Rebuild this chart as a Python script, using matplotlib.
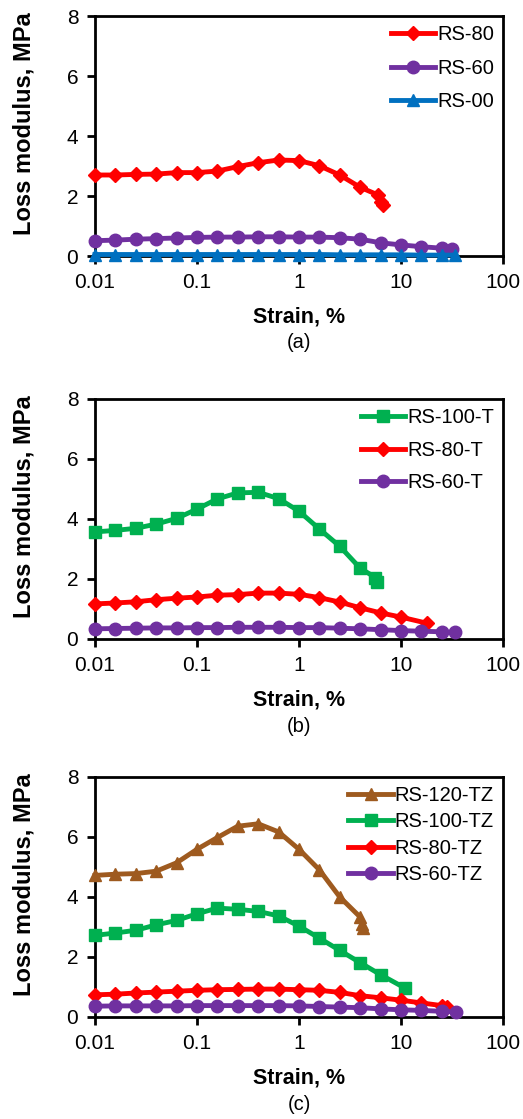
import numpy as np
import matplotlib; matplotlib.use("Agg")
import matplotlib.pyplot as plt
from matplotlib.ticker import FixedLocator, FixedFormatter, NullLocator

plt.rcParams['font.family'] = ['Liberation Sans', 'DejaVu Sans']

# strain grid, 5 points per decade starting at 0.01 %
grid = [0.01, 0.0158, 0.0251, 0.0398, 0.0631, 0.1, 0.158, 0.251, 0.398, 0.631,
        1.0, 1.58, 2.51, 3.98, 6.31, 10.0, 15.8, 25.1]

# (a)
a_rs80_x = grid[:14] + [6.0, 6.4, 6.6]
a_rs80_y = [2.70, 2.70, 2.72, 2.73, 2.78, 2.78, 2.83, 2.98, 3.11, 3.20, 3.18, 3.01, 2.70, 2.29, 2.03, 1.81, 1.70]
a_rs60_x = grid[:18] + [31.6]
a_rs60_y = [0.51, 0.53, 0.56, 0.58, 0.60, 0.62, 0.63, 0.63, 0.64, 0.64, 0.63, 0.63, 0.61, 0.56, 0.44, 0.37, 0.31, 0.26, 0.23]
a_rs00_x = grid[:18] + [34.0]
a_rs00_y = [0.05, 0.05, 0.05, 0.05, 0.05, 0.05, 0.05, 0.05, 0.05, 0.05, 0.05, 0.05, 0.04, 0.04, 0.04, 0.04, 0.03, 0.03, 0.03]

# (b)
b_rs100_x = grid[:14] + [5.6, 5.8]
b_rs100_y = [3.57, 3.62, 3.69, 3.83, 4.02, 4.33, 4.67, 4.87, 4.89, 4.68, 4.26, 3.67, 3.09, 2.36, 2.05, 1.90]
b_rs80_x = grid[:16] + [17.8]
b_rs80_y = [1.17, 1.20, 1.24, 1.31, 1.36, 1.40, 1.46, 1.48, 1.53, 1.53, 1.49, 1.38, 1.23, 1.04, 0.87, 0.73, 0.53]
b_rs60_x = grid[:18] + [34.0]
b_rs60_y = [0.34, 0.35, 0.36, 0.37, 0.37, 0.38, 0.38, 0.39, 0.39, 0.39, 0.38, 0.38, 0.36, 0.34, 0.31, 0.28, 0.26, 0.24, 0.22]

# (c)
c_rs120_x = grid[:14] + [4.1, 4.25]
c_rs120_y = [4.72, 4.76, 4.78, 4.86, 5.14, 5.59, 5.98, 6.36, 6.44, 6.17, 5.59, 4.91, 4.00, 3.33, 3.10, 2.96]
c_rs100_x = grid[:15] + [11.0]
c_rs100_y = [2.72, 2.80, 2.89, 3.07, 3.22, 3.44, 3.63, 3.59, 3.52, 3.37, 3.03, 2.63, 2.22, 1.81, 1.41, 0.96]
c_rs80_x = grid[:18] + [28.0]
c_rs80_y = [0.74, 0.76, 0.80, 0.83, 0.86, 0.89, 0.91, 0.92, 0.93, 0.93, 0.91, 0.89, 0.82, 0.71, 0.64, 0.56, 0.47, 0.38, 0.32]
c_rs60_x = grid[:18] + [35.0]
c_rs60_y = [0.36, 0.37, 0.37, 0.37, 0.37, 0.38, 0.38, 0.38, 0.38, 0.38, 0.37, 0.35, 0.33, 0.31, 0.27, 0.24, 0.22, 0.19, 0.17]

RED = "#FF0000"; PURPLE = "#7030A0"; BLUE = "#0070C0"; GREEN = "#00B050"; BROWN = "#9E5A1F"

panels = [
    ("(a)", 0.72, [(a_rs80_x, a_rs80_y, "RS-80", RED, "D", 7),
                   (a_rs60_x, a_rs60_y, "RS-60", PURPLE, "o", 9),
                   (a_rs00_x, a_rs00_y, "RS-00", BLUE, "^", 9)]),
    ("(b)", 0.68, [(b_rs100_x, b_rs100_y, "RS-100-T", GREEN, "s", 8),
                   (b_rs80_x, b_rs80_y, "RS-80-T", RED, "D", 7),
                   (b_rs60_x, b_rs60_y, "RS-60-T", PURPLE, "o", 9)]),
    ("(c)", 0.36, [(c_rs120_x, c_rs120_y, "RS-120-TZ", BROWN, "^", 9),
                   (c_rs100_x, c_rs100_y, "RS-100-TZ", GREEN, "s", 8),
                   (c_rs80_x, c_rs80_y, "RS-80-TZ", RED, "D", 7),
                   (c_rs60_x, c_rs60_y, "RS-60-TZ", PURPLE, "o", 9)]),
]

W, H = 523, 1119
fig = plt.figure(figsize=(W/100, H/100), dpi=100)
tops = [16, 399, 777]
for (tag, lsp, series), top in zip(panels, tops):
    ax = fig.add_axes([95/W, 1-(top+240)/H, 408/W, 240/H])
    for x, y, lab, col, mk, ms in series:
        ax.plot(x, y, color=col, lw=3.5, marker=mk, ms=ms, label=lab, clip_on=False, zorder=3)
    ax.set_xscale("log")
    ax.set_xlim(0.01, 100); ax.set_ylim(0, 8)
    ax.xaxis.set_major_locator(FixedLocator([0.01, 0.1, 1, 10, 100]))
    ax.xaxis.set_major_formatter(FixedFormatter(["0.01", "0.1", "1", "10", "100"]))
    ax.xaxis.set_minor_locator(NullLocator())
    ax.set_yticks([0, 2, 4, 6, 8])
    for s in ax.spines.values():
        s.set_linewidth(2)
    ax.tick_params(direction="out", length=6, width=2, labelsize=15, pad=6)
    ax.set_ylabel("Loss modulus, MPa", fontsize=17, fontweight="bold", va="center")
    ax.yaxis.set_label_coords(-0.174, 0.552)
    ax.legend(loc="upper right", frameon=False, fontsize=14.5, handlelength=2.2,
              handletextpad=0.1, labelspacing=lsp, borderaxespad=0.05)
    ax_c = (95 + 408/2)/W
    fig.text(ax_c, 1-(top+301)/H, "Strain, %", ha="center", va="center", fontsize=15.5, fontweight="bold")
    fig.text(ax_c, 1-(top+327)/H, tag, ha="center", va="center", fontsize=14.5)

fig.savefig("out.png", dpi=100)
